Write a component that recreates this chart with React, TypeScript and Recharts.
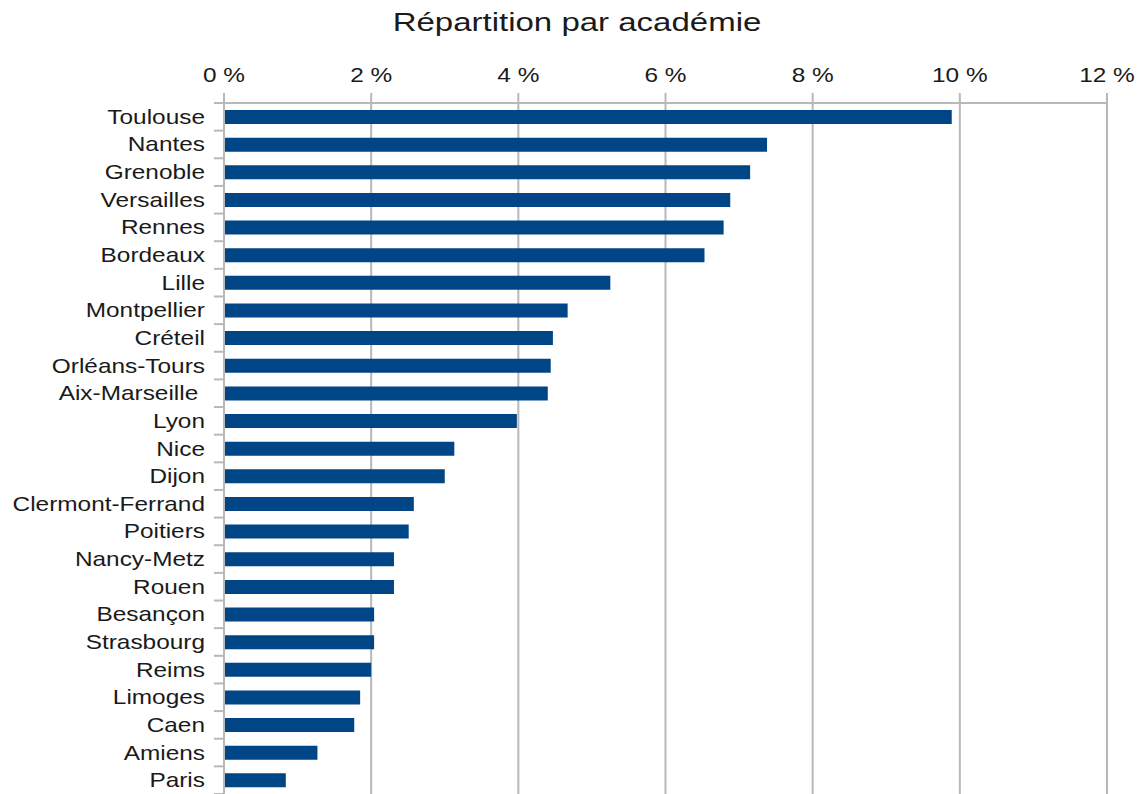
import React from 'react';
import { BarChart, Bar, XAxis, YAxis, CartesianGrid } from 'recharts';

const academies = [
    'Toulouse', 'Nantes', 'Grenoble', 'Versailles', 'Rennes', 'Bordeaux', 'Lille',
    'Montpellier', 'Créteil', 'Orléans-Tours', 'Aix-Marseille ', 'Lyon', 'Nice', 'Dijon',
    'Clermont-Ferrand', 'Poitiers', 'Nancy-Metz', 'Rouen', 'Besançon', 'Strasbourg',
    'Reims', 'Limoges', 'Caen', 'Amiens', 'Paris'
];
const shares = [
    9.89, 7.38, 7.15, 6.88, 6.79, 6.53, 5.25,
    4.67, 4.47, 4.44, 4.40, 3.98, 3.13, 3.0,
    2.58, 2.51, 2.31, 2.31, 2.04, 2.04,
    2.0, 1.85, 1.77, 1.27, 0.84
];
const percentTicks = [0, 2, 4, 6, 8, 10, 12];

const data = academies.map((name, i) => ({ name, value: shares[i] }));

const WIDTH = 1137;
const HEIGHT = 794;
const AXIS_X = 224;
const PLOT_TOP = 103;
const BAND = (HEIGHT - PLOT_TOP) / academies.length;
const GRID = '#b8b8b8';
const FONT = '"Liberation Sans", Arial, sans-serif';
const STRETCH = 1.22;

const XTick = (props: any) => {
    const { x, y, payload } = props;
    return (
        <g transform={`translate(${x},${y}) scale(${STRETCH},1)`}>
            <text x={0} y={0} textAnchor="middle" fontSize={20} fontFamily={FONT} fill="#1a1a1a">
                {`${payload.value} %`}
            </text>
        </g>
    );
};

const YTick = (props: any) => {
    const { y, payload, index } = props;
    const last = index === academies.length - 1;
    return (
        <g>
            <line x1={AXIS_X - 10} x2={AXIS_X} y1={y - BAND / 2} y2={y - BAND / 2} stroke={GRID} strokeWidth={2} />
            {last && <line x1={AXIS_X - 10} x2={AXIS_X} y1={y + BAND / 2} y2={y + BAND / 2} stroke={GRID} strokeWidth={2} />}
            <g transform={`translate(${AXIS_X - 19},${y + 7}) scale(${STRETCH},1)`}>
                <text x={0} y={0} textAnchor="end" fontSize={20} fontFamily={FONT} fill="#1a1a1a" style={{ whiteSpace: 'pre' }}>
                    {payload.value}
                </text>
            </g>
        </g>
    );
};

export default function App() {
    return (
        <div style={{ position: 'absolute', left: 0, top: 0, width: WIDTH, height: HEIGHT, background: '#fff' }}>
            <svg width={WIDTH} height={40} style={{ position: 'absolute', left: 0, top: 0 }}>
                <g transform={`translate(577,31) scale(1.27,1)`}>
                    <text x={0} y={0} textAnchor="middle" fontSize={26} fontFamily={FONT} fill="#1a1a1a">
                        Répartition par académie
                    </text>
                </g>
            </svg>
            <BarChart
                width={WIDTH}
                height={HEIGHT}
                data={data}
                layout="vertical"
                margin={{ top: PLOT_TOP - 30, right: 30, bottom: 0, left: 0 }}
                style={{ position: 'absolute', left: 0, top: 0 }}
            >
                <CartesianGrid horizontal={false} vertical stroke={GRID} strokeWidth={2} />
                <XAxis
                    type="number"
                    orientation="top"
                    domain={[0, 12]}
                    ticks={percentTicks}
                    height={30}
                    tickSize={10}
                    tickMargin={11}
                    axisLine={{ stroke: GRID, strokeWidth: 2 }}
                    tickLine={{ stroke: GRID, strokeWidth: 2 }}
                    tick={<XTick />}
                    interval={0}
                />
                <YAxis
                    type="category"
                    dataKey="name"
                    width={AXIS_X}
                    axisLine={{ stroke: GRID, strokeWidth: 2 }}
                    tickLine={false}
                    tick={<YTick />}
                    interval={0}
                />
                <Bar dataKey="value" fill="#004586" barSize={14} isAnimationActive={false} />
            </BarChart>
        </div>
    );
}
